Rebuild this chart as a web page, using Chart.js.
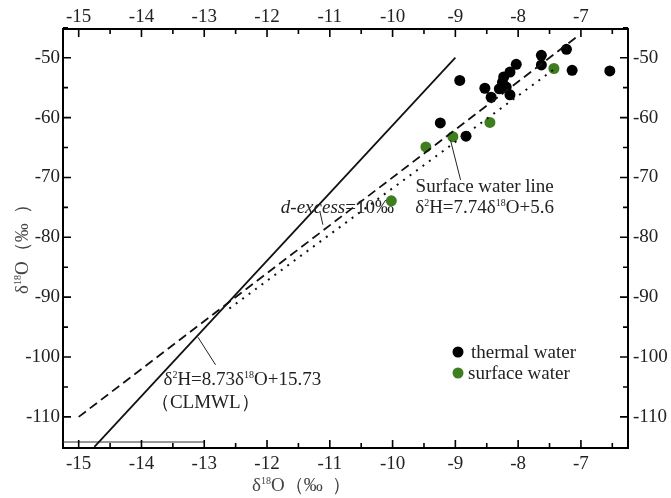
<!DOCTYPE html>
<html>
<head>
<meta charset="utf-8">
<script src="https://cdn.jsdelivr.net/npm/chart.js@4/dist/chart.umd.min.js"></script>
<style>
  html, body { margin: 0; padding: 0; background: #fff; }
</style>
</head>
<body>
<canvas id="chart" width="671" height="498"></canvas>
<script>
// values
const thermalX = [-7.23, -7.63, -7.63, -7.14, -6.54, -8.03, -8.13, -8.23, -8.25, -8.30, -8.19, -8.13, -8.53, -8.43, -8.93, -9.24, -8.83];
const thermalY = [-48.6, -49.6, -51.2, -52.1, -52.2, -51.1, -52.4, -53.2, -54.1, -55.2, -54.9, -56.2, -55.1, -56.6, -53.8, -60.9, -63.1];
const surfaceX = [-7.43, -8.45, -9.04, -9.47, -10.02];
const surfaceY = [-51.8, -60.8, -63.2, -64.9, -73.9];

const clmwlX = [-14.75, -9.0];
const clmwlY = [-115.0, -50.0];
const dExcessX = [-15.0, -7.05];
const dExcessY = [-110.0, -46.4];
const swlX = [-12.6, -7.4];
const swlY = [-91.9, -51.7];
const baseX = [-15.25, -13.0];
const baseY = [-114.2, -114.2];

const xTicks = [-15, -14, -13, -12, -11, -10, -9, -8, -7];
const yTicks = [-50, -60, -70, -80, -90, -100, -110];

const pts = (xs, ys) => xs.map((x, i) => ({ x: x, y: ys[i] }));

const FONT = "'Liberation Serif', 'Times New Roman', serif";
const GREEN = "#3f7e1f";

// text with superscripts: parts = [[text, kind]] kind: "" | "sup" | "it"
function drawRich(ctx, x, y, parts, size, color) {
  ctx.save();
  ctx.fillStyle = color || "#222";
  ctx.textBaseline = "alphabetic";
  ctx.textAlign = "left";
  let cx = x;
  const base = y + size * 0.33;
  parts.forEach(([t, kind]) => {
    if (kind === "sup") {
      ctx.font = `${Math.round(size * 0.55)}px ${FONT}`;
      ctx.fillText(t, cx, base - size * 0.38);
    } else {
      ctx.font = `${kind === "it" ? "italic " : ""}${size}px ${FONT}`;
      ctx.fillText(t, cx, base);
    }
    cx += ctx.measureText(t).width;
  });
  ctx.restore();
  return cx - x;
}

const notes = [
  { x: -9.634, y: -71.4, parts: [["Surface water line", ""]] },
  { x: -9.64, y: -74.9, parts: [["δ", ""], ["2", "sup"], ["H=7.74δ", ""], ["18", "sup"], ["O+5.6", ""]] },
  { x: -11.78, y: -74.9, parts: [["d-excess", "it"], ["=10‰", ""]] },
  { x: -13.65, y: -103.7, parts: [["δ", ""], ["2", "sup"], ["H=8.73δ", ""], ["18", "sup"], ["O+15.73", ""]] },
  { x: -13.85, y: -107.4, parts: [["（CLMWL）", ""]] }
];
const leaders = [
  [-9.077, -63.8, -8.917, -70.4],
  [-13.10, -96.7, -12.82, -101.3],
  [-11.16, -75.6, -11.11, -77.9]
];

const decor = {
  id: "decor",
  afterDraw(chart) {
    const ctx = chart.ctx;
    const a = chart.chartArea;
    const xs = chart.scales.x, ys = chart.scales.y;

    // inward ticks
    ctx.save();
    ctx.strokeStyle = "#000";
    ctx.lineWidth = 1.6;
    ctx.beginPath();
    xTicks.forEach((v) => {
      [[v, 8], [v + 0.5, 5]].forEach(([t, len]) => {
        if (t > xs.max) return;
        const p = xs.getPixelForValue(t);
        ctx.moveTo(p, a.bottom); ctx.lineTo(p, a.bottom - len);
        ctx.moveTo(p, a.top); ctx.lineTo(p, a.top + len);
      });
    });
    yTicks.forEach((v) => {
      [[v, 8], [v + 5, 5]].forEach(([t, len]) => {
        const p = ys.getPixelForValue(t);
        ctx.moveTo(a.left, p); ctx.lineTo(a.left + len, p);
        ctx.moveTo(a.right, p); ctx.lineTo(a.right - len, p);
      });
    });
    ctx.stroke();

    // leader lines
    ctx.lineWidth = 1;
    ctx.strokeStyle = "#222";
    ctx.beginPath();
    leaders.forEach(([x1, y1, x2, y2]) => {
      ctx.moveTo(xs.getPixelForValue(x1), ys.getPixelForValue(y1));
      ctx.lineTo(xs.getPixelForValue(x2), ys.getPixelForValue(y2));
    });
    ctx.stroke();
    ctx.restore();

    notes.forEach((n) => drawRich(ctx, xs.getPixelForValue(n.x), ys.getPixelForValue(n.y), n.parts, 19, "#222"));

    // legend
    const lx = a.left + 395, ly = a.top + 323;
    [["thermal water", "#000", 13], ["surface water", GREEN, 10]].forEach(([label, col, gap], i) => {
      const cy = ly + i * 21;
      ctx.save();
      ctx.fillStyle = col;
      ctx.beginPath();
      ctx.arc(lx, cy, 5.5, 0, Math.PI * 2);
      ctx.fill();
      ctx.restore();
      drawRich(ctx, lx + gap, cy, [[label, ""]], 19, "#222");
    });

    // axis titles
    const title = [["δ", ""], ["18", "sup"], ["O（‰  ）", ""]];
    ctx.save();
    ctx.font = `19px ${FONT}`;
    drawRich(ctx, 252, 485, title, 19, "#444");
    ctx.translate(22, 250);
    ctx.rotate(-Math.PI / 2);
    drawRich(ctx, -44, 0, title, 19, "#444");
    ctx.restore();
  }
};

function axis(position, min, max, ticks, size, pad) {
  const horizontal = position === "top" || position === "bottom";
  return {
    type: "linear",
    position: position,
    min: min,
    max: max,
    grid: { display: false, drawTicks: false },
    border: { display: true, color: "#000", width: 2 },
    ticks: {
      color: "#222",
      padding: pad,
      font: { family: FONT, size: 19 },
      callback: (v) => String(v)
    },
    afterBuildTicks: (s) => { s.ticks = ticks.map((v) => ({ value: v })); },
    afterFit: (s) => { if (horizontal) s.height = size; else s.width = size; }
  };
}

new Chart(document.getElementById("chart"), {
  type: "scatter",
  data: {
    datasets: [
      { label: "CLMWL", data: pts(clmwlX, clmwlY), showLine: true, borderColor: "#111", borderWidth: 1.8, pointRadius: 0 },
      { label: "d-excess", data: pts(dExcessX, dExcessY), showLine: true, borderColor: "#111", borderWidth: 1.8, borderDash: [9, 5], pointRadius: 0 },
      { label: "surface water line", data: pts(swlX, swlY), showLine: true, borderColor: "#111", borderWidth: 2, borderDash: [2, 6], pointRadius: 0 },
      { label: "base", data: pts(baseX, baseY), showLine: true, borderColor: "#333", borderWidth: 1, pointRadius: 0 },
      { label: "thermal water", data: pts(thermalX, thermalY), backgroundColor: "#000", borderWidth: 0, pointRadius: 5.5 },
      { label: "surface water", data: pts(surfaceX, surfaceY), backgroundColor: GREEN, borderWidth: 0, pointRadius: 5.5 }
    ]
  },
  options: {
    responsive: false,
    animation: false,
    devicePixelRatio: 1,
    layout: { padding: 0 },
    plugins: { legend: { display: false }, tooltip: { enabled: false } },
    scales: {
      x: axis("bottom", -15.25, -6.25, xTicks, 50, 5),
      x2: axis("top", -15.25, -6.25, xTicks, 29, 1),
      y: axis("left", -115.2, -45.2, yTicks, 63, 3),
      y2: axis("right", -115.2, -45.2, yTicks, 43, 5)
    }
  },
  plugins: [decor]
});
</script>
</body>
</html>
